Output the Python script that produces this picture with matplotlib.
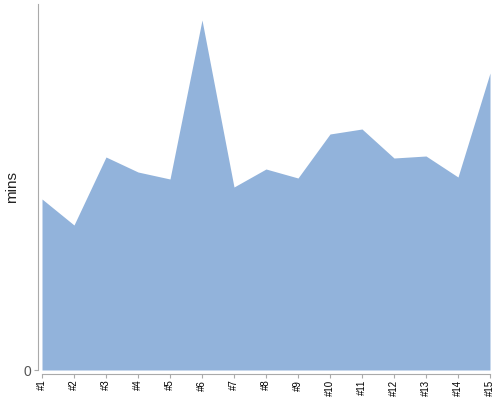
import matplotlib
matplotlib.use("Agg")
import matplotlib.pyplot as plt

plt.rcParams["font.family"] = ["Liberation Sans", "DejaVu Sans"]

labels = ["#%d" % i for i in range(1, 16)]
mins = [171, 145, 213, 198, 191, 350, 183, 201, 192, 236, 241, 212, 214, 193, 297]
ymax = 366

fig = plt.figure(figsize=(5, 4), dpi=100)
ax = fig.add_axes([0.084, 0.075, 0.896, 0.915])

x = list(range(len(labels)))
ax.fill_between(x, mins, 0, color="#92b3db", linewidth=0)

ax.set_xlim(0, len(labels) - 1)
ax.set_ylim(0, ymax)
ax.set_xticks(x)
ax.set_xticklabels(labels)
ax.set_yticks([0])
ax.set_yticklabels(["0"])
ax.set_ylabel("mins", fontsize=11, color="#222222")
ax.yaxis.set_label_coords(-0.052, 0.5)

for s in ["top", "right"]:
    ax.spines[s].set_visible(False)
ax.spines["left"].set_position(("outward", 3))
ax.spines["bottom"].set_position(("outward", 3))
ax.spines["left"].set_color("#aaaaaa")
ax.spines["bottom"].set_color("#aaaaaa")
ax.tick_params(axis="both", color="#aaaaaa", length=3, width=0.8)
ax.tick_params(axis="x", labelrotation=90, labelsize=7, labelcolor="black", pad=1)
ax.tick_params(axis="y", labelsize=10, labelcolor="#555555", pad=2)

fig.savefig("out.png")
